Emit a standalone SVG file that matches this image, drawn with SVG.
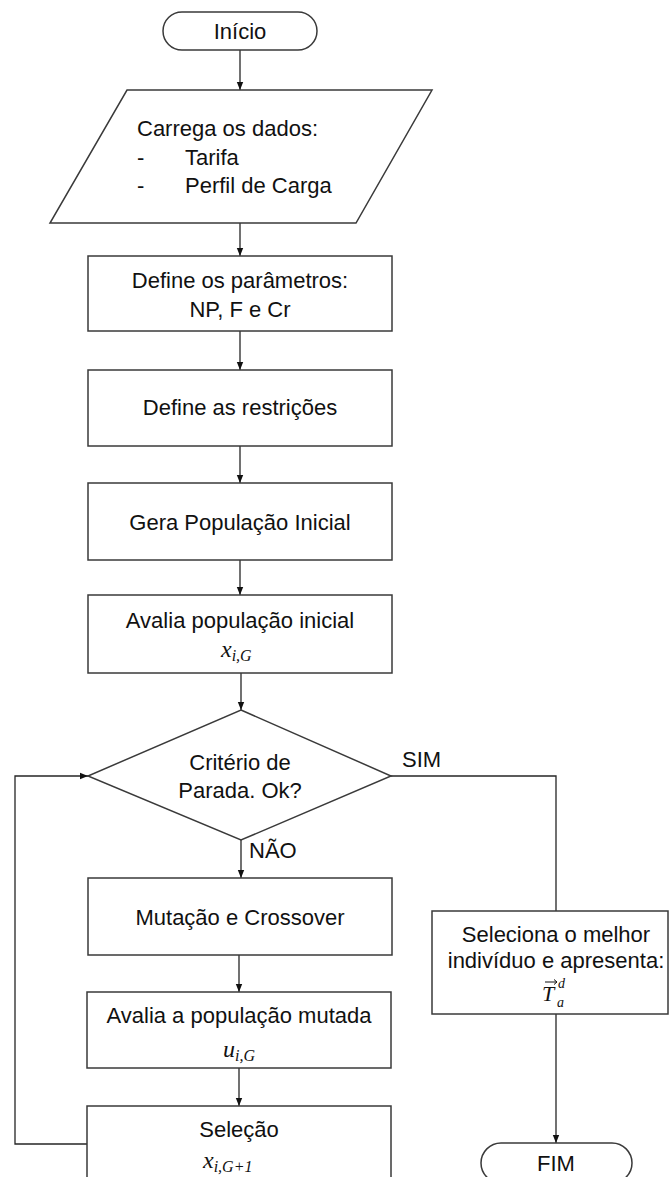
<svg xmlns="http://www.w3.org/2000/svg" width="670" height="1177" viewBox="0 0 670 1177">
<defs>
<style>
.s{fill:#fff;stroke:#3a3a3a;stroke-width:1.5}
.c{fill:none;stroke:#262626;stroke-width:1.3}
text{font-family:"Liberation Sans",Arial,sans-serif;font-size:22px;fill:#111}
.m{text-anchor:middle}
.mt{font-family:"Liberation Serif","Times New Roman",serif;font-style:italic;font-size:24px}
.sb{font-size:16px}
.mt.t{font-size:22px}
.mt.sm{font-size:14px}
</style>
<marker id="ah" viewBox="0 0 10 10" refX="10" refY="5" markerWidth="8" markerHeight="8" markerUnits="userSpaceOnUse" orient="auto">
<path d="M0,1 L10,5 L0,9 Z" fill="#111"/>
</marker>
</defs>
<rect width="670" height="1177" fill="#fff"/>
<g id="connectors">
<path class="c" d="M240,50 V90" marker-end="url(#ah)"/>
<path class="c" d="M240,223 V256" marker-end="url(#ah)"/>
<path class="c" d="M240,331 V370" marker-end="url(#ah)"/>
<path class="c" d="M240,446 V483" marker-end="url(#ah)"/>
<path class="c" d="M240,560 V595" marker-end="url(#ah)"/>
<path class="c" d="M241,673 V710" marker-end="url(#ah)"/>
<path class="c" d="M241,840 V878" marker-end="url(#ah)"/>
<path class="c" d="M239,955 V992" marker-end="url(#ah)"/>
<path class="c" d="M239,1068 V1106" marker-end="url(#ah)"/>
<path class="c" d="M87,1144 H15 V776 H88" marker-end="url(#ah)"/>
<path class="c" d="M391,776 H556 V911"/>
<path class="c" d="M556,1014 V1143" marker-end="url(#ah)"/>
<text x="402" y="767">SIM</text>
<text x="249" y="858">NÃO</text>
</g>
<g id="inicio">
<rect class="s" x="163" y="12" width="154" height="38" rx="19"/>
<text class="m" x="240" y="39">Início</text>
</g>
<g id="dados">
<polygon class="s" points="127,90 432,90 356,223 50,223"/>
<text x="137" y="136">Carrega os dados:</text>
<text x="137" y="165">-</text>
<text x="185" y="165">Tarifa</text>
<text x="137" y="193">-</text>
<text x="185" y="193">Perfil de Carga</text>
</g>
<g id="parametros">
<rect class="s" x="88" y="256" width="304" height="75"/>
<text class="m" x="240" y="288">Define os parâmetros:</text>
<text class="m" x="240" y="317">NP, F e Cr</text>
</g>
<g id="restricoes">
<rect class="s" x="88" y="370" width="304" height="76"/>
<text class="m" x="240" y="415">Define as restrições</text>
</g>
<g id="gera">
<rect class="s" x="88" y="483" width="304" height="77"/>
<text class="m" x="240" y="530">Gera População Inicial</text>
</g>
<g id="avalia">
<rect class="s" x="88" y="595" width="304" height="78"/>
<text class="m" x="240" y="628">Avalia população inicial</text>
<text x="221" y="657" class="mt">x<tspan class="sb" dy="4">i,G</tspan></text>
</g>
<g id="criterio">
<polygon class="s" points="241,710 391,776 241,840 88,776"/>
<text class="m" x="240" y="770">Critério de</text>
<text class="m" x="240" y="798">Parada. Ok?</text>
</g>
<g id="mutacao">
<rect class="s" x="88" y="878" width="304" height="77"/>
<text class="m" x="240" y="925">Mutação e Crossover</text>
</g>
<g id="avalia-mutada">
<rect class="s" x="87" y="992" width="304" height="76"/>
<text class="m" x="239" y="1023">Avalia a população mutada</text>
<text x="223" y="1057" class="mt">u<tspan class="sb" dy="4">i,G</tspan></text>
</g>
<g id="selecao">
<rect class="s" x="87" y="1106" width="304" height="90"/>
<text class="m" x="239" y="1137">Seleção</text>
<text x="203" y="1168" class="mt">x<tspan class="sb" dy="4">i,G+1</tspan></text>
</g>
<g id="seleciona">
<rect class="s" x="432" y="911" width="236" height="103"/>
<text class="m" x="556" y="942">Seleciona o melhor</text>
<text class="m" x="556" y="968">indivíduo e apresenta:</text>
<text x="542" y="1001" class="mt t">T</text>
<text x="557" y="1007" class="mt sm">a</text>
<text x="558" y="988" class="mt sm">d</text>
<path d="M545,982 H557 M554,979.5 L557,982 L554,984.5" fill="none" stroke="#111" stroke-width="1"/>
</g>
<g id="fim">
<rect class="s" x="481" y="1143" width="151" height="40" rx="20"/>
<text class="m" x="556" y="1171">FIM</text>
</g>
</svg>
